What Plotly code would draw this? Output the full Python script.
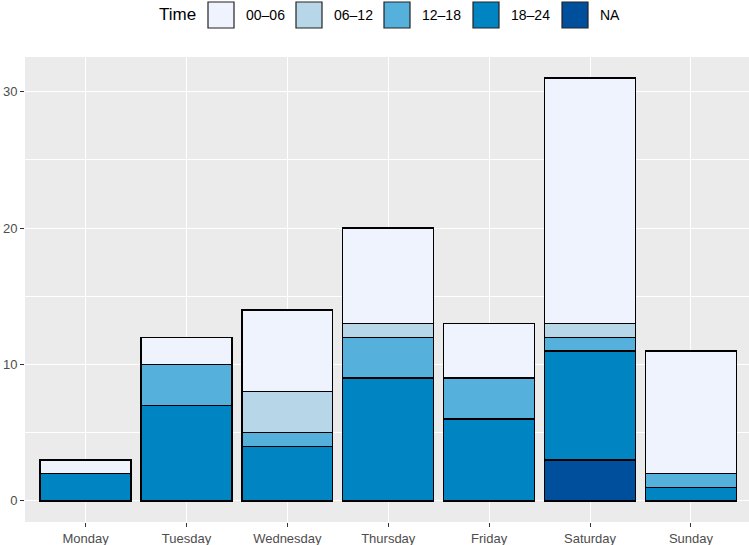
import plotly.graph_objects as go

days = ["Monday", "Tuesday", "Wednesday", "Thursday", "Friday", "Saturday", "Sunday"]
# stacked bottom -> top
na_vals    = [0, 0, 0, 0, 0, 3, 0]
h18_24     = [2, 7, 4, 9, 6, 8, 1]
h12_18     = [0, 3, 1, 3, 3, 1, 1]
h06_12     = [0, 0, 3, 1, 0, 1, 0]
h00_06     = [1, 2, 6, 7, 4, 18, 9]

series = [
    ("NA", na_vals, "#004f9c"),
    ("18–24", h18_24, "#0084c2"),
    ("12–18", h12_18, "#55b0db"),
    ("06–12", h06_12, "#b7d7e8"),
    ("00–06", h00_06, "#eef3fd"),
]
legend_order = ["00–06", "06–12", "12–18", "18–24", "NA"]
legend_title = "Time"

W, H = 749, 545
L, R, T, B = 25, 0, 57, 23
pw, ph = W - L - R, H - T - B

def px_x(px):
    return (px - L) / pw

def px_y(py):
    return (H - B - py) / ph

fig = go.Figure()
for name, vals, col in series:
    fig.add_trace(go.Bar(
        x=days, y=vals, name=name,
        marker=dict(color=col, line=dict(color="black", width=1.3)),
        width=0.9, showlegend=False,
    ))

colors = {n: c for n, _, c in series}
key_x0 = [208, 296, 384, 473, 562]
shapes, annotations = [], []
annotations.append(dict(
    x=px_x(157), y=px_y(15), xref="paper", yref="paper", xanchor="left", yanchor="middle",
    text=legend_title, showarrow=False, font=dict(size=17, color="black"),
))
for name, x0 in zip(legend_order, key_x0):
    shapes.append(dict(
        type="rect", xref="paper", yref="paper",
        x0=px_x(x0), x1=px_x(x0 + 26), y0=px_y(28), y1=px_y(2),
        fillcolor=colors[name], line=dict(color="#222", width=1.2), layer="above",
    ))
    annotations.append(dict(
        x=px_x(x0 + 36), y=px_y(15), xref="paper", yref="paper", xanchor="left", yanchor="middle",
        text=name, showarrow=False, font=dict(size=14, color="black"),
    ))

unit_px = 100.9
x_end = -0.6 + pw / unit_px

fig.update_layout(
    barmode="stack",
    width=W, height=H,
    margin=dict(l=L, r=R, t=T, b=B, autoexpand=False),
    paper_bgcolor="white",
    plot_bgcolor="#ebebeb",
    font=dict(family="Liberation Sans, Arial, sans-serif", color="#4d4d4d", size=13),
    showlegend=False,
    shapes=shapes,
    annotations=annotations,
    xaxis=dict(
        range=[-0.6, x_end], showgrid=True, gridcolor="white", gridwidth=1.2,
        ticks="outside", ticklen=4, tickcolor="#333", tickfont=dict(size=13, color="#4d4d4d"),
        zeroline=False, automargin=False,
    ),
    yaxis=dict(
        range=[-1.55, 32.55], tickvals=[0, 10, 20, 30], showgrid=True, gridcolor="white", gridwidth=1.2,
        minor=dict(tickvals=[5, 15, 25], showgrid=True, gridcolor="white", gridwidth=0.6),
        ticks="outside", ticklen=4, tickcolor="#333", tickfont=dict(size=13, color="#4d4d4d"),
        zeroline=False, automargin=False,
    ),
)
fig.write_html(
    "out.html",
    config={"displayModeBar": False},
    post_script="document.body.style.margin='0';document.body.style.overflow='hidden';",
)
